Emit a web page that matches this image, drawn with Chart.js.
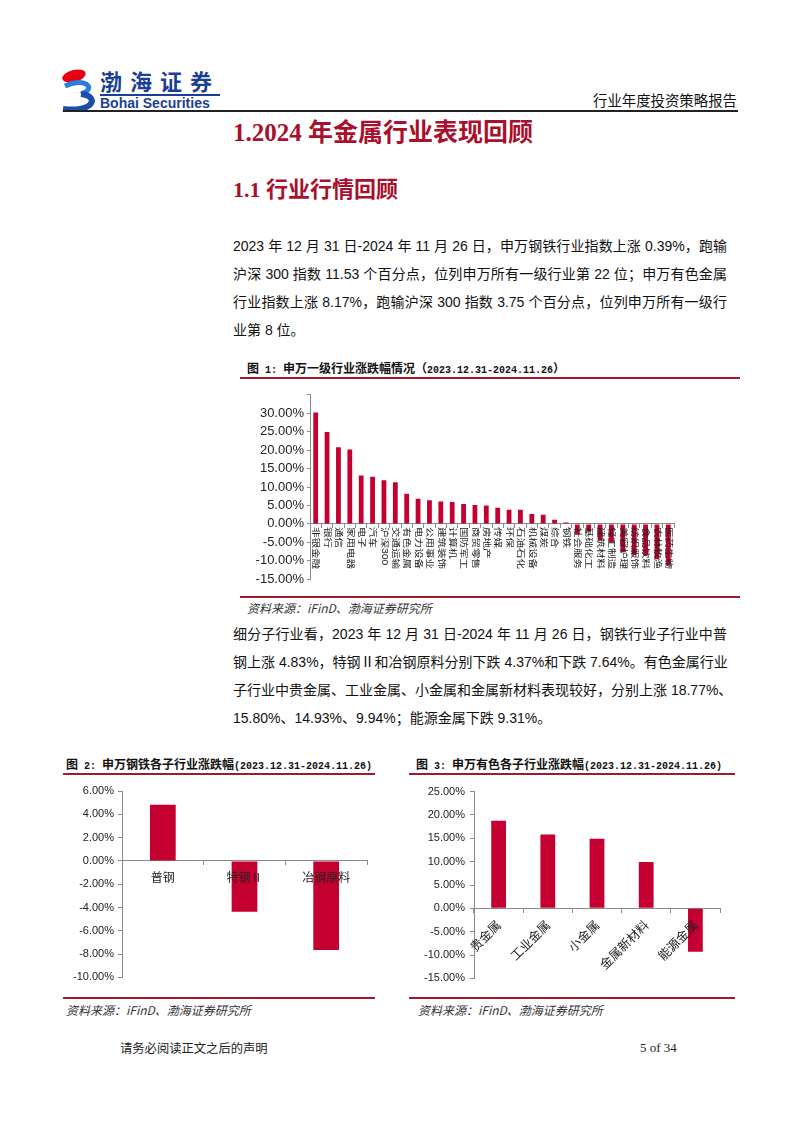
<!DOCTYPE html>
<html>
<head>
<meta charset="utf-8">
<script src="https://cdn.jsdelivr.net/npm/chart.js@4.4.1/dist/chart.umd.min.js"></script>
<style>
  body { margin: 0; background: #fff; }
  #page { position: relative; width: 802px; height: 1133px; overflow: hidden; font-family: "Liberation Sans", "Noto Sans CJK SC", sans-serif; color: #111; }
  .abs { position: absolute; white-space: nowrap; }
  .line { position: absolute; left: 233px; width: 494px; height: 28px; line-height: 28px; font-size: 14px; white-space: nowrap; text-align: justify; text-align-last: justify; }
  .line.last { text-align-last: left; }
  .figTitle { position: absolute; font-family: "Noto Sans CJK SC", sans-serif; font-weight: bold; font-size: 12px; color: #111; white-space: nowrap; }
  .figTitle .m { font-family: "Liberation Mono", monospace; font-size: 10px; }
  .rule { position: absolute; height: 2px; background: #9c1c2c; }
  .src { position: absolute; font-family: "Noto Sans CJK SC", sans-serif; font-style: italic; font-size: 12px; color: #333; white-space: nowrap; }
  canvas { position: absolute; }
</style>
</head>
<body>
<div id="page">
  <!-- header -->
  <svg class="abs" style="left:60px;top:66px" width="40" height="46" viewBox="0 0 40 46">
    <ellipse cx="14" cy="10" rx="12" ry="6" transform="rotate(-15 14 10)" fill="#e60012"/>
    <path d="M5 20 C 24 11, 38 22, 21 28" stroke="#2c7be0" stroke-width="5" fill="none"/>
    <path d="M21 28 C 40 30, 34 47, 3 43" stroke="#1b4fa8" stroke-width="6" fill="none"/>
  </svg>
  <div class="abs" style="left:100px;top:66px;font-family:'Noto Sans CJK SC';font-weight:bold;font-size:22px;letter-spacing:8px;color:#1b3f94;line-height:28px">渤海证券</div>
  <div class="abs" style="left:100px;top:94px;width:120px;height:1.5px;background:#1b3f94"></div>
  <div class="abs" style="left:100px;top:95px;font-family:'Liberation Sans';font-weight:bold;font-size:14px;color:#1b3f94;line-height:16px">Bohai Securities</div>
  <div class="abs" style="left:593px;top:91px;font-family:'Noto Sans CJK SC';font-size:14.4px;line-height:18px;color:#111">行业年度投资策略报告</div>
  <div class="abs" style="left:63px;top:110px;width:675px;height:1.5px;background:#222"></div>

  <!-- headings -->
  <div class="abs" style="left:233px;top:117px;font-family:'Liberation Serif','Noto Sans CJK SC';font-weight:bold;font-size:25px;line-height:32px;color:#a8102c">1.2024 年金属行业表现回顾</div>
  <div class="abs" style="left:233px;top:176px;font-family:'Liberation Serif','Noto Sans CJK SC';font-weight:bold;font-size:22px;line-height:28px;color:#a8102c">1.1 行业行情回顾</div>

  <!-- paragraph 1 -->
  <div class="line" style="top:232px">2023 年 12 月 31 日-2024 年 11 月 26 日，申万钢铁行业指数上涨 0.39%，跑输</div>
  <div class="line" style="top:260px">沪深 300 指数 11.53 个百分点，位列申万所有一级行业第 22 位；申万有色金属</div>
  <div class="line" style="top:288px">行业指数上涨 8.17%，跑输沪深 300 指数 3.75 个百分点，位列申万所有一级行</div>
  <div class="line last" style="top:316px">业第 8 位。</div>

  <!-- figure 1 -->
  <div class="figTitle" style="left:247px;top:359px">图<span class="m"> 1: </span>申万一级行业涨跌幅情况（<span class="m">2023.12.31-2024.11.26</span>）</div>
  <div class="rule" style="left:240px;top:377px;width:500px"></div>
  <canvas id="chart1" width="440" height="206" style="left:240px;top:384px"></canvas>
  <div class="rule" style="left:240px;top:596px;width:500px;height:1.5px"></div>
  <div class="src" style="left:247px;top:599px">资料来源：iFinD、渤海证券研究所</div>

  <!-- paragraph 2 -->
  <div class="line" style="top:620px">细分子行业看，2023 年 12 月 31 日-2024 年 11 月 26 日，钢铁行业子行业中普</div>
  <div class="line" style="top:648px">钢上涨 4.83%，特钢Ⅱ和冶钢原料分别下跌 4.37%和下跌 7.64%。有色金属行业</div>
  <div class="line" style="top:676px">子行业中贵金属、工业金属、小金属和金属新材料表现较好，分别上涨 18.77%、</div>
  <div class="line last" style="top:704px">15.80%、14.93%、9.94%；能源金属下跌 9.31%。</div>

  <!-- figure 2 -->
  <div class="figTitle" style="left:66px;top:755px">图<span class="m"> 2: </span>申万钢铁各子行业涨跌幅<span class="m">(2023.12.31-2024.11.26)</span></div>
  <div class="rule" style="left:63px;top:773px;width:312px"></div>
  <canvas id="chart2" width="325" height="208" style="left:50px;top:780px"></canvas>
  <div class="rule" style="left:63px;top:997px;width:312px"></div>
  <div class="src" style="left:66px;top:1001px">资料来源：iFinD、渤海证券研究所</div>

  <!-- figure 3 -->
  <div class="figTitle" style="left:416px;top:755px">图<span class="m"> 3: </span>申万有色各子行业涨跌幅<span class="m">(2023.12.31-2024.11.26)</span></div>
  <div class="rule" style="left:409px;top:773px;width:326px"></div>
  <canvas id="chart3" width="325" height="210" style="left:405px;top:780px"></canvas>
  <div class="rule" style="left:409px;top:997px;width:326px"></div>
  <div class="src" style="left:418px;top:1001px">资料来源：iFinD、渤海证券研究所</div>

  <!-- footer -->
  <div class="abs" style="left:120px;top:1040px;font-family:'Noto Sans CJK SC';font-size:12.3px;line-height:16px;color:#222">请务必阅读正文之后的声明</div>
  <div class="abs" style="left:640px;top:1040px;font-family:'Liberation Serif';font-size:13px;line-height:16px;color:#222">5 of 34</div>
</div>

<script>
// chart 1: 申万一级行业涨跌幅 (%)
const industryNames = ['非银金融', '银行', '通信', '家用电器', '电子', '汽车', '沪深300', '交通运输',
  '有色金属', '电力设备', '公用事业', '建筑装饰', '计算机', '国防军工', '商贸零售', '房地产',
  '传媒', '环保', '石油石化', '机械设备', '煤炭', '综合', '钢铁', '社会服务',
  '基础化工', '建筑材料', '轻工制造', '美容护理', '纺织服饰', '食品饮料', '农林牧渔', '医药生物']
const industryChange = [30.2, 24.9, 20.8, 20.2, 13.1, 12.8, 11.8, 11.3,
  8.17, 6.8, 6.4, 6.05, 5.9, 5.4, 5.1, 5.0,
  4.4, 3.8, 3.8, 2.7, 2.5, 1.1, 0.39, -2.8,
  -2.1, -4.5, -5.0, -7.6, -8.4, -8.6, -9.6, -11.3]

// chart 2: 钢铁子行业
const steelNames = ['普钢', '特钢Ⅱ', '冶钢原料']
const steelChange = [4.83, -4.37, -7.64]

// chart 3: 有色子行业
const metalNames = ['贵金属', '工业金属', '小金属', '金属新材料', '能源金属']
const metalChange = [18.77, 15.80, 14.93, 9.94, -9.31]

const barColor = '#c3002f'
const axisColor = '#8a8a8a'
const tickFamily = '"Liberation Sans", Arial, sans-serif'
const pct = v => v.toFixed(2) + '%'

// vertical category labels for chart 1, reading top to bottom just under the zero line
const verticalLabels = {
    id: 'verticalLabels',
    afterDatasetsDraw(chart){
        let x = chart.scales.x
        let y0 = chart.scales.y.getPixelForValue(0)
        let ctx = chart.ctx
        ctx.save()
        ctx.font = '10.5px "Liberation Sans", "Noto Sans CJK SC", sans-serif'
        ctx.fillStyle = '#222'
        ctx.textAlign = 'left'
        ctx.textBaseline = 'middle'
        industryNames.forEach((name, i) => {
            ctx.save()
            ctx.translate(x.getPixelForTick(i), y0 + 3)
            ctx.rotate(Math.PI / 2)
            ctx.scale(1, 0.8) // glyphs in the reference are narrow across the axis
            ctx.fillText(name, 0, 0)
            ctx.restore()
        })
        ctx.restore()
    }
}

function yAxis(min, max, step, width, tickLength, pad, fontSize, hideTop){
    return {
        min: min, max: max,
        afterFit(scale){ scale.width = width },
        ticks: {
            stepSize: step, padding: pad, color: '#222',
            font: {family: tickFamily, size: fontSize},
            callback: v => (hideTop && v === max) ? '' : pct(v)
        },
        grid: {drawOnChartArea: false, drawTicks: true, tickLength: tickLength, color: axisColor},
        border: {color: axisColor}
    }
}

function xAxis(rotation, fontSize, showLabels){
    return {
        position: {y: 0},
        ticks: {
            display: showLabels, minRotation: rotation, maxRotation: rotation, autoSkip: false,
            padding: 5, color: '#222', z: 1, // labels sit on top of the negative bars
            font: {family: '"Noto Sans CJK SC", sans-serif', size: fontSize}
        },
        grid: {drawOnChartArea: false, drawTicks: true, tickLength: 4, color: axisColor, offset: true},
        border: {color: axisColor}
    }
}

function baseOptions(padding, x, y){
    return {
        responsive: false,
        animation: false,
        layout: {padding: padding},
        plugins: {legend: {display: false}, tooltip: {enabled: false}},
        scales: {x: x, y: y}
    }
}

new Chart(document.getElementById('chart1'), {
    type: 'bar',
    data: {
        labels: industryNames,
        datasets: [{data: industryChange, backgroundColor: barColor, barPercentage: 0.42, categoryPercentage: 1}]
    },
    options: baseOptions({top: 8, right: 6, bottom: 8, left: 0},
        xAxis(0, 10, false),
        yAxis(-15, 35, 5, 70, 3, 3, 13, true)),
    plugins: [verticalLabels]
})

new Chart(document.getElementById('chart2'), {
    type: 'bar',
    data: {
        labels: steelNames,
        datasets: [{data: steelChange, backgroundColor: barColor, barPercentage: 0.315, categoryPercentage: 1}]
    },
    options: baseOptions({top: 11, right: 8, bottom: 10, left: 0},
        xAxis(0, 12, true),
        yAxis(-10, 6, 2, 72, 4, 4, 11, false))
})

new Chart(document.getElementById('chart3'), {
    type: 'bar',
    data: {
        labels: metalNames,
        datasets: [{data: metalChange, backgroundColor: barColor, barPercentage: 0.3, categoryPercentage: 1}]
    },
    options: baseOptions({top: 11, right: 10, bottom: 8, left: 0},
        xAxis(45, 12.5, true),
        yAxis(-15, 25, 5, 69, 4, 5, 11, false))
})
</script>
</body>
</html>
